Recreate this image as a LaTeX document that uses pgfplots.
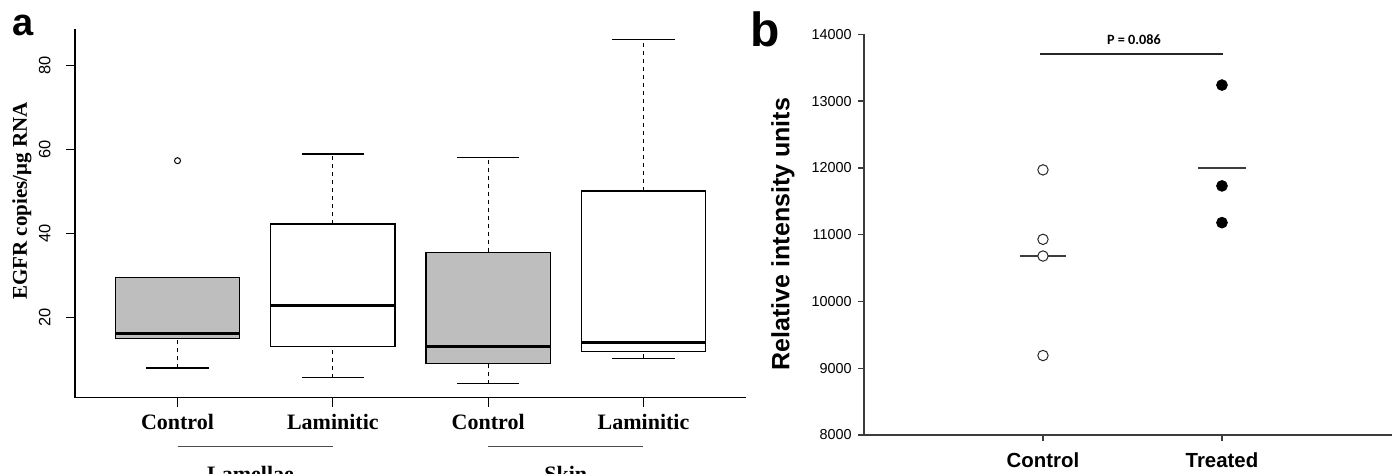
\documentclass[border=0pt]{standalone}
\usepackage{pgfplots}
\pgfplotsset{compat=1.18}
\usepgfplotslibrary{statistics}
\usepackage{fontspec}
\setmainfont{Liberation Serif}
\newfontfamily\ari{Liberation Sans}
\newfontfamily\tnr{Liberation Serif}
\newfontfamily\carl{Carlito}
\definecolor{boxgray}{HTML}{BEBEBE}
\definecolor{axgray}{HTML}{3C3C3C}

% R-like whiskers: dashed stem, solid cap
\pgfplotsset{
  rbox/.style={
    draw=black, line width=0.6pt,
    boxplot/draw direction=y,
    boxplot/every median/.style={line width=1.6pt},
    boxplot/draw/lower whisker/.code={
      \draw[line width=0.6pt, dash pattern=on 2pt off 2pt]
        (boxplot box cs:\pgfplotsboxplotvalue{lower whisker},0.5) --
        (boxplot box cs:\pgfplotsboxplotvalue{lower quartile},0.5);
      \draw[line width=0.6pt]
        (boxplot whisker cs:\pgfplotsboxplotvalue{lower whisker},0) --
        (boxplot whisker cs:\pgfplotsboxplotvalue{lower whisker},1);
    },
    boxplot/draw/upper whisker/.code={
      \draw[line width=0.6pt, dash pattern=on 2pt off 2pt]
        (boxplot box cs:\pgfplotsboxplotvalue{upper quartile},0.5) --
        (boxplot box cs:\pgfplotsboxplotvalue{upper whisker},0.5);
      \draw[line width=0.6pt]
        (boxplot whisker cs:\pgfplotsboxplotvalue{upper whisker},0) --
        (boxplot whisker cs:\pgfplotsboxplotvalue{upper whisker},1);
    },
    mark=o, mark size=1.5pt, mark options={solid, black, line width=0.5pt},
  },
}

\begin{document}
\begin{tikzpicture}[x=1pt,y=1pt]
\useasboundingbox (0,0) rectangle (696.5,236.5);

\node[font=\ari\bfseries\fontsize{19}{20}\selectfont, inner sep=0pt] at (11.5,224) {a};
\node[font=\ari\bfseries\fontsize{24}{26}\selectfont, inner sep=0pt] at (382.75,221.75) {b};

% ---- panel a ----
\begin{axis}[
  at={(37.5pt,37.65pt)}, anchor=south west,
  scale only axis, width=335.5pt, height=184.2pt,
  xmin=0.34, xmax=4.66, ymin=0.93, ymax=88.7,
  axis lines=left, axis line style={-, line width=0.6pt},
  tick align=outside, major tick length=4.5pt,
  tick style={black, line width=0.6pt},
  clip=false,
  xtick={1,2,3,4},
  xticklabels={Control,Laminitic,Control,Laminitic},
  xticklabel style={font=\tnr\bfseries\fontsize{11}{13}\selectfont, inner sep=0pt, anchor=north},
  xticklabel shift=3.4pt,
  ytick={20,40,60,80},
  yticklabel style={font=\ari\fontsize{8.2}{10}\selectfont, rotate=90, anchor=south, inner sep=0pt},
  yticklabel shift=7.5pt,
  /pgf/number format/assume math mode=true,
  ylabel={EGFR copies/μg RNA},
  ylabel style={font=\tnr\bfseries\fontsize{10.5}{12}\selectfont, at={(rel axis cs:-0.079,0.534)}, anchor=center},
]
\addplot[rbox, fill=boxgray, boxplot prepared={lower whisker=8.0, lower quartile=15.0, median=16.3,
  upper quartile=29.6, upper whisker=29.6, draw position=1, box extend=0.8, whisker extend=0.4}]
  coordinates {(0,57.4)};
\addplot[rbox, fill=white, boxplot prepared={lower whisker=5.7, lower quartile=13.1, median=22.95,
  upper quartile=42.3, upper whisker=59.0, draw position=2, box extend=0.8, whisker extend=0.4}]
  coordinates {};
\addplot[rbox, fill=boxgray, boxplot prepared={lower whisker=4.3, lower quartile=9.0, median=13.1,
  upper quartile=35.6, upper whisker=58.1, draw position=3, box extend=0.8, whisker extend=0.4}]
  coordinates {};
\addplot[rbox, fill=white, boxplot prepared={lower whisker=10.3, lower quartile=12.0, median=14.0,
  upper quartile=50.2, upper whisker=86.2, draw position=4, box extend=0.8, whisker extend=0.4}]
  coordinates {};

\draw[line width=0.6pt, black!70] ([yshift=-24.5pt]axis cs:1,0.93) -- ([yshift=-24.5pt]axis cs:2,0.93);
\draw[line width=0.6pt, black!70] ([yshift=-24.5pt]axis cs:3,0.93) -- ([yshift=-24.5pt]axis cs:4,0.93);
\node[font=\tnr\bfseries\fontsize{11}{13}\selectfont, anchor=base, inner sep=0pt]
  at ([yshift=-41.8pt]axis cs:1.47,0.93) {Lamellae};
\node[font=\tnr\bfseries\fontsize{11}{13}\selectfont, anchor=base, inner sep=0pt]
  at ([yshift=-41.8pt]axis cs:3.5,0.93) {Skin};
\end{axis}

% ---- panel b ----
\begin{axis}[
  at={(432pt,19pt)}, anchor=south west,
  scale only axis, width=264pt, height=200.35pt,
  xmin=0, xmax=2.95, ymin=8000, ymax=14000,
  axis lines=left, axis line style={-, axgray, line width=0.7pt},
  tick align=outside, major tick length=3pt,
  tick style={axgray, line width=0.7pt},
  clip=false,
  xtick={1,2}, xticklabels={Control,Treated},
  xticklabel style={font=\ari\bfseries\fontsize{10.2}{12}\selectfont, inner sep=0pt, anchor=north},
  xticklabel shift=5.8pt,
  ytick distance=1000,
  scaled y ticks=false,
  yticklabel style={font=\ari\fontsize{7.2}{9}\selectfont, inner sep=0pt, anchor=east},
  yticklabel shift=3pt,
  /pgf/number format/1000 sep={},
  /pgf/number format/assume math mode=true,
  ylabel={Relative intensity units},
  ylabel style={font=\ari\bfseries\fontsize{12.5}{14}\selectfont, at={(rel axis cs:-0.1534,0.5016)}, anchor=center},
]
% group means
\addplot[line width=0.8pt, axgray] coordinates {(0.87,10680) (1.13,10680)};
\addplot[line width=0.8pt, axgray] coordinates {(1.866,12000) (2.134,12000)};
% comparison bar
\addplot[line width=0.9pt, black!85] coordinates {(0.983,13710) (2.006,13710)};
\node[font=\carl\bfseries\fontsize{7.1}{8}\selectfont] at (axis cs:1.508,13913) {P = 0.086};
% points
\addplot[only marks, mark=*, mark size=2.6pt, mark options={draw=black!85, fill=white, line width=0.5pt}]
  coordinates {(1,11970) (1,10930) (1,10680) (1,9190)};
\addplot[only marks, mark=*, mark size=2.7pt, mark options={draw=black, fill=black}]
  coordinates {(2,13240) (2,11730) (2,11180)};
\end{axis}
\end{tikzpicture}
\end{document}
